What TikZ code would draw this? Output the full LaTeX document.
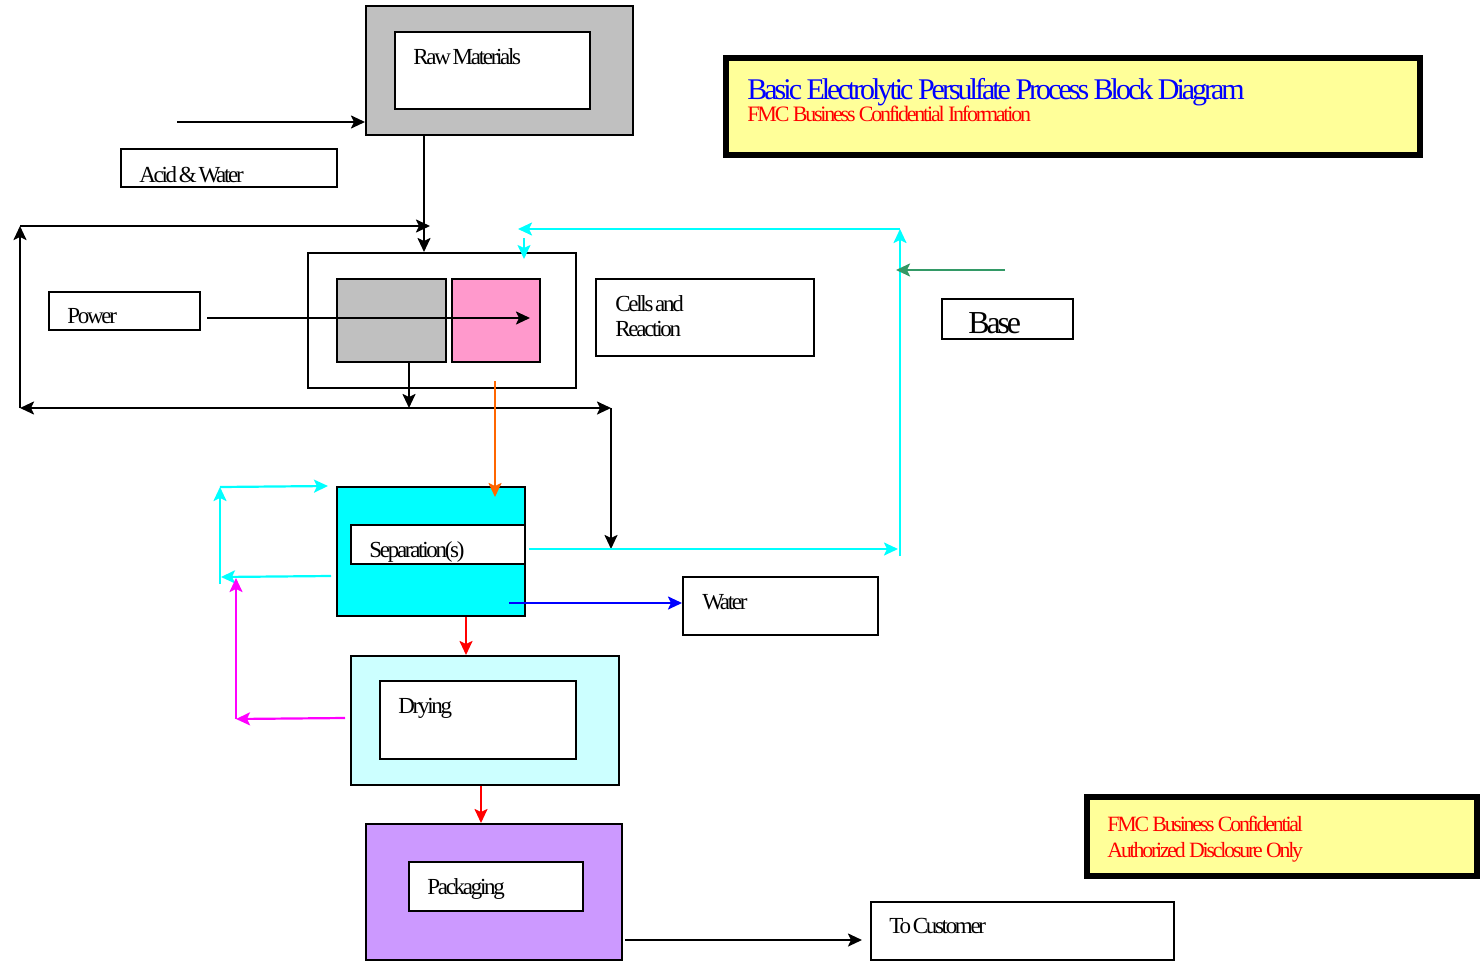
\documentclass[tikz,border=0pt]{standalone}
\usepackage{fontspec}
\setmainfont{Liberation Serif}[LetterSpace=-10,WordSpace=0.5]
\newfontfamily\ttlfont{Liberation Serif}[LetterSpace=-10]
\usetikzlibrary{arrows.meta,fit}
\definecolor{cgray}{HTML}{C0C0C0}
\definecolor{cpink}{HTML}{FF99CC}
\definecolor{ccyan}{HTML}{00FFFF}
\definecolor{clcyan}{HTML}{CCFFFF}
\definecolor{cpurple}{HTML}{CC99FF}
\definecolor{cyellow}{HTML}{FFFF99}
\definecolor{cgreen}{HTML}{339966}
\definecolor{corange}{HTML}{FF6600}
\definecolor{cred}{HTML}{FF0000}
\definecolor{cmag}{HTML}{FF00FF}
\definecolor{cblue}{HTML}{0000FF}
\begin{document}
\begin{tikzpicture}[x=0.5pt,y=-0.5pt,
  box/.style={draw=black,line width=1pt,inner sep=0pt},
  titlebox/.style={draw=black,line width=2.6pt,fill=cyellow,inner sep=0pt},
  lbl/.style={anchor=base west,inner sep=0pt,font=\fontsize{11.5}{14}\selectfont},
  con/.style={line width=1.1pt,-{Stealth[length=7pt,width=6.5pt,inset=1.5pt]}},
  dcon/.style={line width=1.1pt,{Stealth[length=7pt,width=6.5pt,inset=1.5pt]}-{Stealth[length=7pt,width=6.5pt,inset=1.5pt]}},
  ln/.style={line width=1pt}]
\useasboundingbox (0,0) rectangle (1481,963);
% ---- boxes
\node[box,fill=cgray,fit={(366,6)(633,135)}] (rawo) {};
\node[box,fill=white,fit={(395,32)(590,109)}] (rawi) {};
\node[box,fit={(121,149)(337,187)}] (acid) {};
\node[box,fit={(308,253)(576,388)}] (cells) {};
\node[box,fill=cgray,fit={(337,279)(446,362)}] (cellg) {};
\node[box,fill=cpink,fit={(452,279)(540,362)}] (cellp) {};
\node[box,fit={(49,292)(200,330)}] (power) {};
\node[box,fit={(596,279)(814,356)}] (cr) {};
\node[box,fit={(942,299)(1073,339)}] (base) {};
\node[box,fill=ccyan,fit={(337,487)(525,616)}] (sepo) {};
\node[box,fill=white,fit={(351,525)(525,564)}] (sepi) {};
\node[box,fit={(683,577)(878,635)}] (water) {};
\node[box,fill=clcyan,fit={(351,656)(619,785)}] (dryo) {};
\node[box,fill=white,fit={(380,681)(576,759)}] (dryi) {};
\node[box,fill=cpurple,fit={(366,824)(622,960)}] (packo) {};
\node[box,fill=white,fit={(409,862)(583,911)}] (packi) {};
\node[box,fit={(871,902)(1174,960)}] (cust) {};
\node[titlebox,fit={(726,58)(1420,155)}] (title) {};
\node[titlebox,fit={(1087,797)(1477,876)}] (conf) {};
% ---- texts
\node[lbl] (traw) at (413,65) {Raw Materials};
\node[lbl] (tacid) at (139,182) {Acid \& Water};
\node[lbl] (tpow) at (67,323) {Power};
\node[lbl] (tcr1) at (615,311) {Cells and};
\node[lbl] (tcr2) at (615,336) {Reaction};
\node[lbl,font=\fontsize{16}{18}\selectfont] (tbase) at (968,333) {Base};
\node[lbl] (tsep) at (369,557) {Separation(s)};
\node[lbl] (twat) at (702,609) {Water};
\node[lbl] (tdry) at (398,713) {Drying};
\node[lbl] (tpack) at (427,894) {Packaging};
\node[lbl] (tcust) at (889,933) {To Customer};
\node[lbl,font=\ttlfont\fontsize{15}{17}\selectfont,text=cblue] (ttitle) at (747,99) {Basic Electrolytic Persulfate Process Block Diagram};
\node[lbl,font=\ttlfont\fontsize{11}{12}\selectfont,text=cred] (tsub) at (747,121) {FMC Business Confidential Information};
\node[lbl,font=\ttlfont\fontsize{10.9}{12}\selectfont,text=cred] (tconf1) at (1107,831) {FMC Business Confidential};
\node[lbl,font=\ttlfont\fontsize{10.9}{12}\selectfont,text=cred] (tconf2) at (1107,857) {Authorized Disclosure Only};
% ---- free-end coordinates
\coordinate (awin) at (177,122);
\coordinate (lpTL) at (20,226);
\coordinate (lpBL) at (20,408);
\coordinate (lpTR) at (430,226);
\coordinate (lpBR) at (611,408);
\coordinate (sepdrop) at (611,549);
\coordinate (pwin) at (207,318);
\coordinate (pwout) at (530,318);
\coordinate (cyTR) at (900,229);
\coordinate (cyBR) at (900,556);
\coordinate (cyTL) at (518,229);
\coordinate (cyin1) at (524,238);
\coordinate (cyin2) at (524,259);
\coordinate (gin) at (1005,270);
\coordinate (gout) at (896,270);
\coordinate (orin) at (495,381);
\coordinate (orout) at (495,497);
\coordinate (sepR) at (529,549);
\coordinate (sepRend) at (898,549);
\coordinate (rcL1) at (331,576);
\coordinate (rcL2) at (221,577);
\coordinate (rcBL) at (220,584);
\coordinate (rcTL) at (220,487);
\coordinate (rcTR) at (328,486);
\coordinate (blin) at (509,603);
\coordinate (mgin) at (345,718);
\coordinate (mgBL) at (236,719);
\coordinate (mgTL) at (236,578);
\coordinate (pkout) at (625,940);
% ---- connectors
\draw[con] (awin) -- (awin -| rawo.west);
\draw[con] (rawo.south -| 424,0) -- (cells.north -| 424,0);
\draw[con] (lpBL) -- (lpTL);
\draw[con] (lpTL) -- (lpTR);
\draw[con] (pwin) -- (pwout);
\draw[con] (cellg.south -| 409,0) -- (lpBL -| 409,0);
\draw[dcon] (lpBL) -- (lpBR);
\draw[con] (lpBR) -- (sepdrop);
\draw[con,ccyan] (cyBR) -- (cyTR);
\draw[con,ccyan] (cyTR) -- (cyTL);
\draw[con,ccyan,line width=0.9pt] (cyin1) -- (cyin2);
\draw[con,cgreen] (gin) -- (gout);
\draw[con,corange] (orin) -- (orout);
\draw[con,ccyan] (sepR) -- (sepRend);
\draw[con,ccyan] (rcL1) -- (rcL2);
\draw[con,ccyan] (rcBL) -- (rcTL);
\draw[con,ccyan] (rcTL) -- (rcTR);
\draw[con,cblue] (blin) -- (water.west |- blin);
\draw[con,cred] (sepo.south -| 466,0) -- (dryo.north -| 466,0);
\draw[con,cmag] (mgin) -- (mgBL);
\draw[con,cmag] (mgBL) -- (mgTL);
\draw[con,cred] (dryo.south -| 481,0) -- (packo.north -| 481,0);
\draw[con] (pkout) -- (pkout -| 862,0);
\end{tikzpicture}
\end{document}
